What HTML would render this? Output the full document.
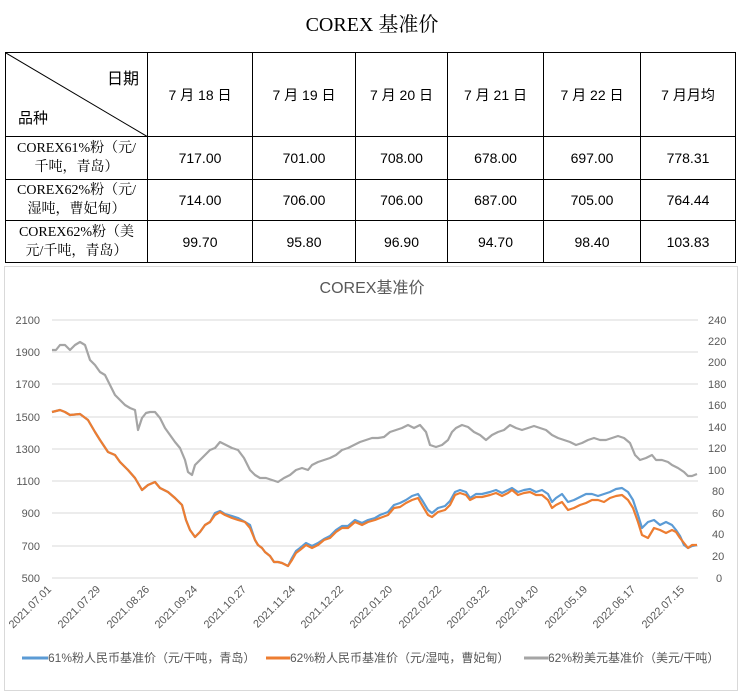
<!DOCTYPE html>
<html><head><meta charset="utf-8"><style>
body{margin:0;width:744px;height:699px;background:#fff;position:relative;overflow:hidden;font-family:"Liberation Sans","Noto Sans CJK SC",sans-serif}
.t{position:absolute;left:0;width:744px;top:8px;text-align:center;font-family:"Liberation Serif","Noto Serif CJK SC",serif;font-size:20px;color:#000}
table{position:absolute;left:5px;top:52px;border-collapse:collapse;table-layout:fixed}
td{border:1px solid #000;text-align:center;font-size:14px;color:#000;padding:0}
td.l{font-family:"Liberation Serif","Noto Serif CJK SC",serif;font-size:14px;line-height:19px}
.ch{position:absolute;left:4px;top:266px;width:732px;height:423px;border:1px solid #d9d9d9}
</style></head><body>
<div class="t">COREX 基准价</div>
<table>
<colgroup><col style="width:142px"><col style="width:105px"><col style="width:103px"><col style="width:92px"><col style="width:96px"><col style="width:97px"><col style="width:95px"></colgroup>
<tr style="height:84px"><td style="position:relative"><svg width="142" height="84" style="position:absolute;left:0;top:0"><line x1="0" y1="0" x2="142" y2="84" stroke="#000"/></svg><span style="position:absolute;right:8px;top:12px;font-size:16px;font-family:'WenQuanYi Zen Hei',sans-serif">日期</span><span style="position:absolute;left:12px;top:54px;font-size:15px;font-family:'WenQuanYi Zen Hei',sans-serif">品种</span></td><td>7 月 18 日</td><td>7 月 19 日</td><td>7 月 20 日</td><td>7 月 21 日</td><td>7 月 22 日</td><td>7 月月均</td></tr>
<tr style="height:43px"><td class="l">COREX61%粉（元/<br>千吨，青岛）</td><td>717.00</td><td>701.00</td><td>708.00</td><td>678.00</td><td>697.00</td><td>778.31</td></tr>
<tr style="height:41px"><td class="l">COREX62%粉（元/<br>湿吨，曹妃甸）</td><td>714.00</td><td>706.00</td><td>706.00</td><td>687.00</td><td>705.00</td><td>764.44</td></tr>
<tr style="height:42px"><td class="l">COREX62%粉（美<br>元/千吨，青岛）</td><td>99.70</td><td>95.80</td><td>96.90</td><td>94.70</td><td>98.40</td><td>103.83</td></tr>
</table>
<div class="ch"></div>
<svg width="744" height="699" style="position:absolute;left:0;top:0" font-family="Liberation Sans, Noto Sans CJK SC, sans-serif">
<text x="372" y="293" text-anchor="middle" font-size="16" fill="#595959">COREX基准价</text>
<g stroke="#d9d9d9" stroke-width="1">
<line x1="52" x2="698" y1="320" y2="320"/><line x1="52" x2="698" y1="352" y2="352"/><line x1="52" x2="698" y1="384" y2="384"/><line x1="52" x2="698" y1="417" y2="417"/><line x1="52" x2="698" y1="449" y2="449"/><line x1="52" x2="698" y1="481" y2="481"/><line x1="52" x2="698" y1="513" y2="513"/><line x1="52" x2="698" y1="546" y2="546"/><line x1="52" x2="698" y1="578" y2="578"/>
</g>
<g font-size="11" fill="#595959" text-anchor="end">
<text x="40" y="324">2100</text><text x="40" y="356">1900</text><text x="40" y="388">1700</text><text x="40" y="421">1500</text><text x="40" y="453">1300</text><text x="40" y="485">1100</text><text x="40" y="517">900</text><text x="40" y="550">700</text><text x="40" y="582">500</text>
</g>
<g font-size="11" fill="#595959" text-anchor="start">
<text x="708" y="324">240</text><text x="708" y="345">220</text><text x="708" y="366">200</text><text x="708" y="388">180</text><text x="708" y="409">160</text><text x="708" y="431">140</text><text x="708" y="452">120</text><text x="708" y="474">100</text><text x="712" y="495">80</text><text x="712" y="517">60</text><text x="712" y="538">40</text><text x="712" y="560">20</text><text x="716" y="582">0</text>
</g>
<g font-size="11" fill="#595959" text-anchor="end">
<text transform="translate(52,590) rotate(-45)">2021.07.01</text>
<text transform="translate(101,590) rotate(-45)">2021.07.29</text>
<text transform="translate(150,590) rotate(-45)">2021.08.26</text>
<text transform="translate(198,590) rotate(-45)">2021.09.24</text>
<text transform="translate(247,590) rotate(-45)">2021.10.27</text>
<text transform="translate(296,590) rotate(-45)">2021.11.24</text>
<text transform="translate(344,590) rotate(-45)">2021.12.22</text>
<text transform="translate(393,590) rotate(-45)">2022.01.20</text>
<text transform="translate(442,590) rotate(-45)">2022.02.22</text>
<text transform="translate(490,590) rotate(-45)">2022.03.22</text>
<text transform="translate(539,590) rotate(-45)">2022.04.20</text>
<text transform="translate(588,590) rotate(-45)">2022.05.19</text>
<text transform="translate(636,590) rotate(-45)">2022.06.17</text>
<text transform="translate(685,590) rotate(-45)">2022.07.15</text>
</g>
<polyline fill="none" stroke="#a5a5a5" stroke-width="2.2" stroke-linejoin="round" points="52,350 56,350 60,345 65,345 70,350 75,345 80,342 85,345 90,360 95,365 100,372 105,375 110,385 115,395 120,400 125,405 130,408 135,410 138,430 142,418 146,413 150,412 155,412 160,418 165,428 170,435 175,442 180,448 185,460 188,472 192,475 195,465 200,460 205,455 210,450 215,448 220,442 226,445 232,448 238,450 244,458 250,470 255,475 260,478 266,478 272,480 278,482 284,478 290,475 296,470 302,468 308,470 312,465 318,462 324,460 330,458 336,455 342,450 348,448 354,445 360,442 366,440 372,438 378,438 384,437 390,432 396,430 402,428 408,425 414,428 420,425 426,432 430,445 436,447 442,445 448,440 452,432 456,428 462,425 468,427 474,432 480,435 486,440 492,435 498,432 504,430 510,425 516,428 522,430 528,428 534,426 540,428 546,430 552,435 558,438 564,440 570,442 576,445 582,443 588,440 594,438 600,440 606,440 612,438 618,436 624,438 630,443 635,455 640,460 646,458 652,455 656,460 662,460 668,462 672,465 678,468 684,472 688,476 692,476 697,474"/>
<polyline fill="none" stroke="#5b9bd5" stroke-width="2.2" stroke-linejoin="round" points="52,412 60,410 65,412 70,415 80,414 88,420 95,432 100,440 108,452 115,455 120,462 128,470 135,478 142,490 148,485 155,482 160,488 168,492 175,498 182,505 186,520 190,530 195,537 200,532 205,525 210,522 215,513 220,511 225,514 232,516 238,518 245,522 250,525 255,540 258,545 262,548 265,552 270,556 274,562 278,562 282,563 288,566 292,558 296,551 300,548 306,543 312,546 318,543 324,539 330,536 336,530 342,526 348,526 355,520 362,523 368,520 375,518 380,515 388,512 394,505 400,503 406,500 412,496 418,494 422,500 428,510 432,513 438,508 445,506 450,501 455,492 460,490 466,492 470,498 476,494 482,494 490,492 496,490 502,493 508,490 512,488 518,492 524,490 530,489 536,492 542,490 548,494 552,502 556,498 562,494 568,502 574,500 580,497 586,494 592,494 598,496 604,494 610,492 616,489 622,488 628,492 633,500 638,515 642,528 648,522 654,520 660,525 666,522 672,525 676,530 680,536 684,545 688,548 692,546 697,545"/>
<polyline fill="none" stroke="#ed7d31" stroke-width="2.2" stroke-linejoin="round" points="52,412 60,410 65,412 70,415 80,414 88,420 95,432 100,440 108,452 115,455 120,462 128,470 135,478 142,490 148,485 155,482 160,488 168,492 175,498 182,505 186,520 190,530 195,537 200,532 205,525 210,522 215,515 220,512 225,515 232,518 238,520 245,522 250,528 255,540 258,545 262,548 265,552 270,556 274,562 278,562 282,563 288,566 292,560 296,553 300,550 306,545 312,548 318,545 324,540 330,538 336,532 342,528 348,528 355,522 362,525 368,522 375,520 380,518 388,515 394,508 400,507 406,503 412,500 418,498 422,505 428,515 432,517 438,512 445,510 450,505 455,495 460,493 466,495 470,500 476,497 482,497 490,495 496,493 502,496 508,493 512,490 518,495 524,493 530,492 536,495 542,495 548,500 552,508 556,505 562,502 568,510 574,508 580,505 586,503 592,500 598,500 604,502 610,498 616,496 622,495 628,500 633,508 638,522 642,535 648,538 654,528 660,530 666,533 672,530 676,532 680,538 684,543 688,548 692,545 697,545"/>
<g font-size="12" fill="#595959">
<line x1="22" y1="658" x2="48" y2="658" stroke="#5b9bd5" stroke-width="3"/><text x="48" y="662">61%粉人民币基准价（元/干吨，青岛）</text>
<line x1="266" y1="658" x2="290" y2="658" stroke="#ed7d31" stroke-width="3"/><text x="290" y="662">62%粉人民币基准价（元/湿吨，曹妃甸）</text>
<line x1="524" y1="658" x2="548" y2="658" stroke="#a5a5a5" stroke-width="3"/><text x="548" y="662">62%粉美元基准价（美元/干吨）</text>
</g>
</svg>
</body></html>
